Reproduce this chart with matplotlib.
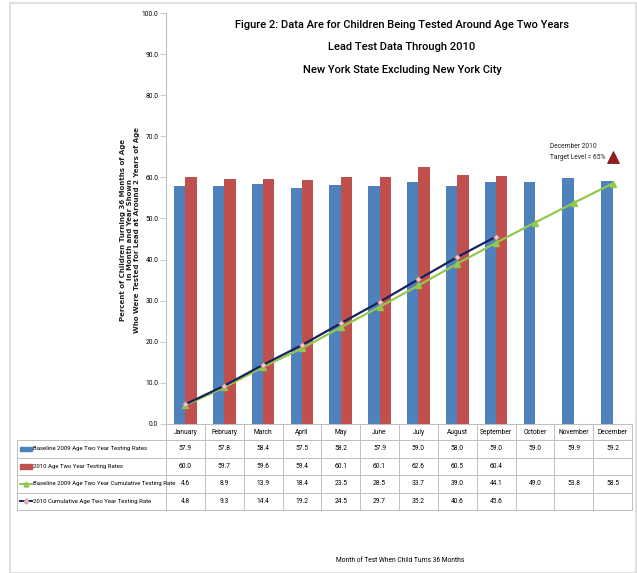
import matplotlib
matplotlib.use('Agg')
import matplotlib.pyplot as plt
from matplotlib.patches import Rectangle
from matplotlib.lines import Line2D

# --- data ---
months = ['January', 'February', 'March', 'April', 'May', 'June', 'July',
          'August', 'September', 'October', 'November', 'December']
base_2009 = [57.9, 57.8, 58.4, 57.5, 58.2, 57.9, 59.0, 58.0, 59.0, 59.0, 59.9, 59.2]
rate_2010 = [60.0, 59.7, 59.6, 59.4, 60.1, 60.1, 62.6, 60.5, 60.4]
cum_2009 = [4.6, 8.9, 13.9, 18.4, 23.5, 28.5, 33.7, 39.0, 44.1, 49.0, 53.8, 58.5]
cum_2010 = [4.8, 9.3, 14.4, 19.2, 24.5, 29.7, 35.2, 40.6, 45.6]
series_names = ['Baseline 2009 Age Two Year Testing Rates',
                '2010 Age Two Year Testing Rates',
                'Baseline 2009 Age Two Year Cumulative Testing Rate',
                '2010 Cumulative Age Two Year Testing Rate']
target_month = 11
target_level = 65

BLUE = '#4F81BD'
RED = '#C0504D'
GREEN = '#92C84E'
NAVY = '#17215C'
GRID = '#BFBFBF'

nf = dict(family=['Roboto', 'DejaVu Sans'])

W, H = 637, 573
fig = plt.figure(figsize=(W / 100, H / 100), dpi=100)
fig.patches.append(Rectangle((10 / W, 0), 1 - 11 / W, 1 - 3 / H, transform=fig.transFigure,
                             fill=False, edgecolor='#D9D9D9', linewidth=1.2))

ax_l, ax_r, ax_t, ax_b = 166, 632, 13, 424
ax = fig.add_axes([ax_l / W, 1 - ax_b / H, (ax_r - ax_l) / W, (ax_b - ax_t) / H])
ax_h = ax_b - ax_t

x = list(range(len(months)))
bw = 0.29
ax.bar([i - bw / 2 for i in x], base_2009, bw, color=BLUE, zorder=2)
ax.bar([i + bw / 2 for i in range(len(rate_2010))], rate_2010, bw, color=RED, zorder=2)
ax.plot(x, cum_2009, color=GREEN, lw=1.6, marker='^', ms=4, mfc=GREEN, mec=GREEN, zorder=3)
ax.plot(range(len(cum_2010)), cum_2010, color=NAVY, lw=1.6, marker='D', ms=3,
        mfc='#F4C7C3', mec='#B08080', mew=0.5, zorder=4)

ax.plot([target_month], [target_level], marker='^', ms=8, color='#9E1B1B', mec='#5A0E0E',
        mew=0.5, zorder=5)
ax.annotate('December 2010\nTarget Level = 65%', xy=(target_month, target_level),
            xytext=(-63, 5), textcoords='offset pixels', ha='left', va='center',
            fontsize=4.8, linespacing=1.7, color='#222222', **nf)

ax.set_xlim(-0.5, len(months) - 0.5)
ax.set_ylim(0, 100)
ax.set_yticks(range(0, 101, 10))
ax.set_yticklabels([f'{v:.1f}' for v in range(0, 101, 10)], fontsize=4.8, **nf)
ax.set_xticks([])
for s in ['top', 'right']:
    ax.spines[s].set_visible(False)
for s in ['left', 'bottom']:
    ax.spines[s].set_color(GRID)
    ax.spines[s].set_linewidth(0.8)
ax.tick_params(axis='y', length=4, width=0.6, color=GRID, pad=1.5)

# --- titles ---
title_lines = ['Figure 2: Data Are for Children Being Tested Around Age Two Years',
               'Lead Test Data Through 2010',
               'New York State Excluding New York City']
for line, yp in zip(title_lines, [25, 47, 70]):
    fig.text(402 / W, 1 - yp / H, line, ha='center', va='center', fontsize=8.0,
             fontweight='medium', **nf)

fig.text(130 / W, 1 - 230 / H,
         'Percent of Children Turning 36 Months of Age\nin Month and Year Shown\n'
         'Who Were Tested for Lead at Around 2 Years of Age',
         rotation=90, ha='center', va='center', fontsize=5.0, fontweight='bold',
         linespacing=1.2, color='#222222')
fig.text(400 / W, 1 - 561 / H, 'Month of Test When Child Turns 36 Months',
         ha='center', va='center', fontsize=4.8, **nf)

# --- data table under the axis ---
tx = ax.get_xaxis_transform()
ta = ax.transAxes
row_edges = [0, 16, 33.5, 51, 68.5, 86]  # pixels below the axis
fy = [-p / ax_h for p in row_edges]
left = (17 - ax_l) / (ax_r - ax_l)
kw = dict(clip_on=False, color=GRID, lw=0.7)
for yv in fy[1:]:
    ax.add_line(Line2D([left, 1], [yv, yv], transform=ta, **kw))
ax.add_line(Line2D([left, left], [fy[1], fy[-1]], transform=ta, **kw))
for b in range(len(months) + 1):
    ax.add_line(Line2D([b - 0.5, b - 0.5], [0, fy[-1]], transform=tx, **kw))

for i, m in enumerate(months):
    ax.text(i, (fy[0] + fy[1]) / 2, m, transform=tx, ha='center', va='center',
            fontsize=4.8, clip_on=False, **nf)

rows = [base_2009, rate_2010, cum_2009, cum_2010]
for r, vals in enumerate(rows):
    yc = (fy[r + 1] + fy[r + 2]) / 2
    for i, v in enumerate(vals):
        ax.text(i, yc, f'{v:.1f}', transform=tx, ha='center', va='center',
                fontsize=4.8, clip_on=False, **nf)
    ax.text(left + 0.034, yc, series_names[r], transform=ta, ha='left', va='center',
            fontsize=4.3, clip_on=False, **nf)

k0, k1 = left + 0.006, left + 0.033
ax.add_patch(Rectangle((k0, fy[1] - 6.5 / ax_h), k1 - k0, -4.5 / ax_h, transform=ta,
                       color=BLUE, clip_on=False))
ax.add_patch(Rectangle((k0, fy[2] - 6.5 / ax_h), k1 - k0, -4.5 / ax_h, transform=ta,
                       color=RED, clip_on=False))
yc3 = (fy[3] + fy[4]) / 2
ax.add_line(Line2D([k0, k1], [yc3, yc3], transform=ta, color=GREEN, lw=1.4, clip_on=False))
ax.add_line(Line2D([(k0 + k1) / 2], [yc3], transform=ta, marker='^', ms=3.5, color=GREEN,
                   clip_on=False))
yc4 = (fy[4] + fy[5]) / 2
ax.add_line(Line2D([k0, k1], [yc4, yc4], transform=ta, color=NAVY, lw=1.4, clip_on=False))
ax.add_line(Line2D([(k0 + k1) / 2], [yc4], transform=ta, marker='D', ms=2.8, mfc='#F4C7C3',
                   mec='#B08080', mew=0.5, clip_on=False))

fig.savefig('out.png', dpi=100)
